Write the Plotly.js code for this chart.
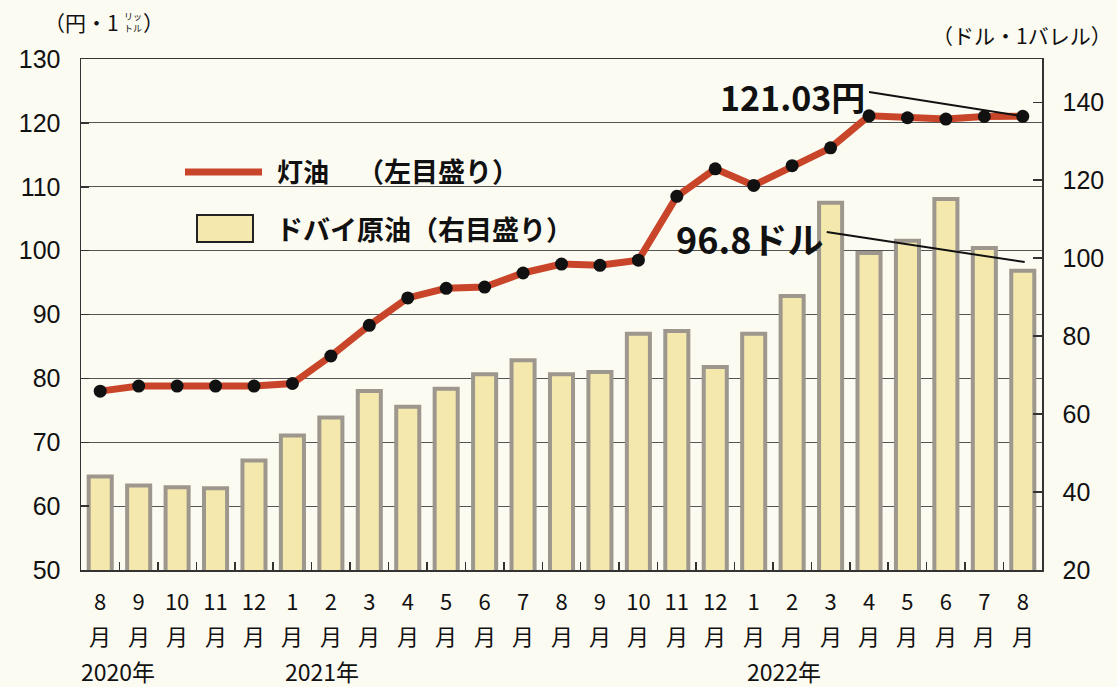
<!DOCTYPE html>
<html>
<head>
<meta charset="utf-8">
<script src="https://cdn.plot.ly/plotly-3.0.1.min.js"></script>
<style>
html,body{margin:0;padding:0;background:#fcfbf2;}
#chart{width:1117px;height:687px;}
</style>
</head>
<body>
<div id="chart"></div>
<script>
// ---- data ----
const months = ['2020-08','2020-09','2020-10','2020-11','2020-12',
  '2021-01','2021-02','2021-03','2021-04','2021-05','2021-06','2021-07','2021-08','2021-09','2021-10','2021-11','2021-12',
  '2022-01','2022-02','2022-03','2022-04','2022-05','2022-06','2022-07','2022-08'];
const monthLabels = ['8','9','10','11','12','1','2','3','4','5','6','7','8','9','10','11','12','1','2','3','4','5','6','7','8'];
const monthUnit = '月';
const yearLabels = ['2020年','2021年','2022年'];
const yearLabelPos = [0.46, 5.77, 17.8];
// 灯油 (円・1リットル, left axis)
const kerosene = [78.0, 78.8, 78.8, 78.8, 78.8, 79.2, 83.5, 88.3, 92.6, 94.1, 94.3, 96.5, 97.9, 97.7, 98.5,
  108.5, 112.8, 110.2, 113.3, 116.1, 121.1, 120.8, 120.6, 121.0, 121.03];
// ドバイ原油 (ドル・1バレル, right axis)
const dubai = [44.0, 41.7, 41.2, 41.0, 48.1, 54.5, 59.1, 65.9, 61.9, 66.5, 70.2, 73.8, 70.2, 70.8, 80.6,
  81.3, 72.1, 80.6, 90.3, 114.2, 101.3, 104.5, 115.2, 102.6, 96.8];
const leftTicks = [50,60,70,80,90,100,110,120,130];
const rightTicks = [20,40,60,80,100,120,140];

const bg = '#fcfbf2';
const cjk = '"Noto Sans CJK JP", "Noto Sans", sans-serif';
const sans = '"Liberation Sans", Arial, "Noto Sans CJK JP", sans-serif';

const traces = [
  {
    type: 'bar', x: months, y: dubai, yaxis: 'y', xaxis: 'x',
    width: 0.6,
    marker: {color: '#f4e8ac', line: {color: '#9d978e', width: 4}},
    hoverinfo: 'x+y', showlegend: false
  },
  {
    type: 'scatter', mode: 'lines+markers', x: months, y: kerosene, yaxis: 'y2', xaxis: 'x',
    line: {color: '#c9452a', width: 7},
    marker: {color: '#111111', size: 13},
    showlegend: false
  }
];

const last = months.length - 1;
const P = (px) => (px - 81) / 961;   // pixel -> paper x
const Q = (py) => (570 - py) / 511;  // pixel -> paper y
const layout = {
  width: 1117, height: 687,
  paper_bgcolor: bg, plot_bgcolor: bg,
  margin: {l: 81, r: 75, t: 59, b: 117},
  showlegend: false,
  xaxis: {
    type: 'category', range: [-0.5, last + 0.5],
    tickmode: 'array', tickvals: months, ticktext: monthLabels,
    tickson: 'boundaries', ticks: 'inside', ticklen: 8, tickcolor: '#333', tickwidth: 1.5,
    showline: true, linecolor: '#333', linewidth: 1.5, mirror: true,
    showgrid: false,
    ticklabelstandoff: 12,
    tickfont: {family: cjk, size: 22, color: '#111'}
  },
  // right axis : ドバイ原油
  yaxis: {
    side: 'right', range: [20, 151.1],
    tickmode: 'array', tickvals: rightTicks,
    ticks: 'inside', ticklen: 9, tickcolor: '#333', tickwidth: 1.5,
    showgrid: false, zeroline: false,
    showline: true, linecolor: '#333', linewidth: 1.5,
    ticklabelstandoff: 14,
    tickfont: {family: sans, size: 25, color: '#111'}
  },
  // left axis : 灯油
  yaxis2: {
    side: 'left', overlaying: 'y', range: [50, 130],
    tickmode: 'array', tickvals: leftTicks,
    ticks: 'inside', ticklen: 8, tickcolor: '#333', tickwidth: 1.5,
    showgrid: true, gridcolor: '#555', gridwidth: 1.2, zeroline: false,
    showline: true, linecolor: '#333', linewidth: 1.5,
    ticklabelstandoff: 14,
    tickfont: {family: sans, size: 25, color: '#111'}
  },
  shapes: [
    // leader lines
    {type: 'line', xref: 'x', yref: 'y2', x0: 20.0, y0: 124.85, x1: last, y1: kerosene[last],
      line: {color: '#111', width: 2}},
    {type: 'line', xref: 'x', yref: 'y', x0: 18.9, y0: 106.7, x1: last + 0.05, y1: 99.0,
      line: {color: '#111', width: 2}},
    // legend marks
    {type: 'line', xref: 'paper', yref: 'paper', x0: P(185), x1: P(262), y0: Q(172), y1: Q(172),
      line: {color: '#c9452a', width: 7}},
    {type: 'rect', xref: 'paper', yref: 'paper', x0: P(197), x1: P(253), y0: Q(242), y1: Q(215),
      fillcolor: '#f4e8ac', line: {color: '#222', width: 2}}
  ],
  annotations: [
    {xref: 'x', yref: 'y2', x: 19.95, y: 124.2, xanchor: 'right', yanchor: 'middle', showarrow: false,
      text: '<b>121.03円</b>', font: {family: cjk, size: 34, color: '#111'}},
    {xref: 'x', yref: 'y', x: 18.85, y: 105.1, xanchor: 'right', yanchor: 'middle', showarrow: false,
      text: '<b>96.8ドル</b>', font: {family: cjk, size: 36, color: '#111'}},
    // legend texts
    {xref: 'paper', yref: 'paper', x: P(275), y: Q(170), xanchor: 'left', yanchor: 'middle', showarrow: false,
      text: '<b>灯油</b>', font: {family: cjk, size: 26, color: '#111'}},
    {xref: 'paper', yref: 'paper', x: P(355), y: Q(170), xanchor: 'left', yanchor: 'middle', showarrow: false,
      text: '<b>（左目盛り）</b>', font: {family: cjk, size: 27, color: '#111'}},
    {xref: 'paper', yref: 'paper', x: P(274), y: Q(228), xanchor: 'left', yanchor: 'middle', showarrow: false,
      text: '<b>ドバイ原油（右目盛り）</b>', font: {family: cjk, size: 27, color: '#111'}},
    // axis unit titles
    {xref: 'paper', yref: 'paper', x: P(121), y: Q(22), xanchor: 'right', yanchor: 'middle', showarrow: false,
      text: '（円・1', font: {family: cjk, size: 21, color: '#111'}},
    {xref: 'paper', yref: 'paper', x: P(122), y: Q(22), xanchor: 'left', yanchor: 'middle', showarrow: false,
      text: 'リッ<br>トル', font: {family: cjk, size: 9, color: '#111'}},
    {xref: 'paper', yref: 'paper', x: P(141), y: Q(22), xanchor: 'left', yanchor: 'middle', showarrow: false,
      text: '）', font: {family: cjk, size: 21, color: '#111'}},
    {xref: 'paper', yref: 'paper', x: P(1114), y: Q(35), xanchor: 'right', yanchor: 'middle', showarrow: false,
      text: '（ドル・1バレル）', font: {family: cjk, size: 21, color: '#111'}}
  ]
};
// second row of month labels (月)
months.forEach((m, i) => {
  layout.annotations.push({xref: 'x', yref: 'paper', x: i, y: Q(635),
    xanchor: 'center', yanchor: 'middle', showarrow: false,
    text: monthUnit, font: {family: cjk, size: 22, color: '#111'}});
});
yearLabels.forEach((t, i) => {
  layout.annotations.push({xref: 'x', yref: 'paper', x: yearLabelPos[i], y: Q(671),
    xanchor: 'center', yanchor: 'middle', showarrow: false,
    text: t, font: {family: cjk, size: 23, color: '#111'}});
});

Plotly.newPlot('chart', traces, layout, {displayModeBar: false, staticPlot: true});
</script>
</body>
</html>
